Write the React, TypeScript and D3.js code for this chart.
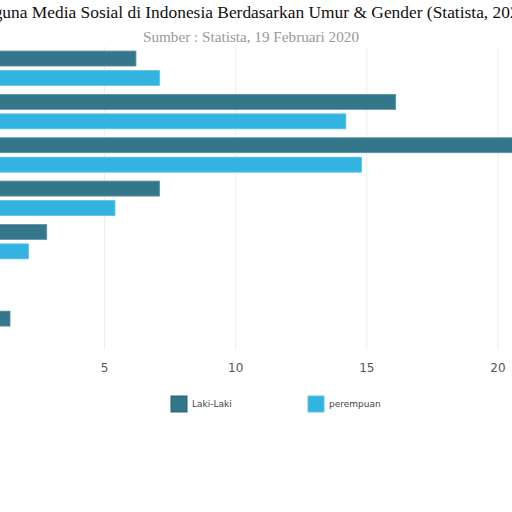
import React from "react";
import { scaleLinear, scaleBand } from "d3";

const ageGroups = ["13-17", "18-24", "25-34", "35-44", "45-54", "55-64", "65+"];
const lakiLaki = [6.2, 16.1, 20.6, 7.1, 2.8, 0.9, 1.4];
const perempuan = [7.1, 14.2, 14.8, 5.4, 2.1, 0.8, 0.9];
const xTicks = [0, 5, 10, 15, 20];
const seriesNames = ["Laki-Laki", "perempuan"];
const seriesColors = ["#35778a", "#33b3e0"];

const title = "Pengguna Media Sosial di Indonesia Berdasarkan Umur & Gender (Statista, 2020)";
const subtitle = "Sumber : Statista, 19 Februari 2020";

function App() {
  const width = 512;
  const height = 512;

  // the plot is wider than the viewport; zero sits just left of the edge
  const x = scaleLinear().domain([0, 20]).range([-26.7, 498]);
  const y = scaleBand().domain(ageGroups).range([46.6, 350]).padding(0);
  const inner = scaleBand()
    .domain(seriesNames)
    .range([0, y.bandwidth()])
    .padding(0.229);

  const series = [lakiLaki, perempuan];

  return (
    <svg
      width={width}
      height={height}
      style={{ position: "absolute", left: 0, top: 0, background: "#fff" }}
    >
      <text
        x={246}
        y={18}
        textAnchor="middle"
        fontFamily="Liberation Serif"
        fontSize={17.4}
        fill="#111"
      >
        {title}
      </text>
      <text
        x={251}
        y={42}
        textAnchor="middle"
        fontFamily="Liberation Serif"
        fontSize={15.2}
        fill="#999"
      >
        {subtitle}
      </text>

      {/* vertical grid */}
      {xTicks.map((t) => (
        <line
          key={"g" + t}
          x1={x(t)}
          x2={x(t)}
          y1={46.6}
          y2={350}
          stroke="#eeeeee"
          strokeWidth={1}
        />
      ))}

      {/* bars */}
      {series.map((values, si) =>
        values.map((v, i) => (
          <rect
            key={si + "-" + i}
            x={x(0)}
            y={(y(ageGroups[i]) ?? 0) + (inner(seriesNames[si]) ?? 0)}
            width={x(v) - x(0)}
            height={inner.bandwidth()}
            fill={seriesColors[si]}
            stroke={si === 0 ? "#5e93a3" : "#5cc3e6"}
            strokeWidth={0.8}
          />
        ))
      )}

      {/* x tick labels (zero falls outside the view) */}
      {xTicks
        .filter((t) => x(t) > 0)
        .map((t) => (
          <text
            key={"t" + t}
            x={x(t)}
            y={372}
            textAnchor="middle"
            fontFamily="DejaVu Sans"
            fontSize={12}
            fill="#555"
          >
            {t}
          </text>
        ))}

      {/* legend */}
      {seriesNames.map((name, i) => {
        const lx = [171, 308][i];
        return (
          <g key={name} transform={`translate(${lx},396)`}>
            <rect
              width={16}
              height={16}
              fill={seriesColors[i]}
              stroke={i === 0 ? "#2a6172" : "#5cc3e6"}
              strokeWidth={1}
            />
            <text
              x={21}
              y={8}
              dy="0.35em"
              fontFamily="DejaVu Sans"
              fontSize={9}
              fill="#444"
            >
              {name}
            </text>
          </g>
        );
      })}
    </svg>
  );
}

export default App;
